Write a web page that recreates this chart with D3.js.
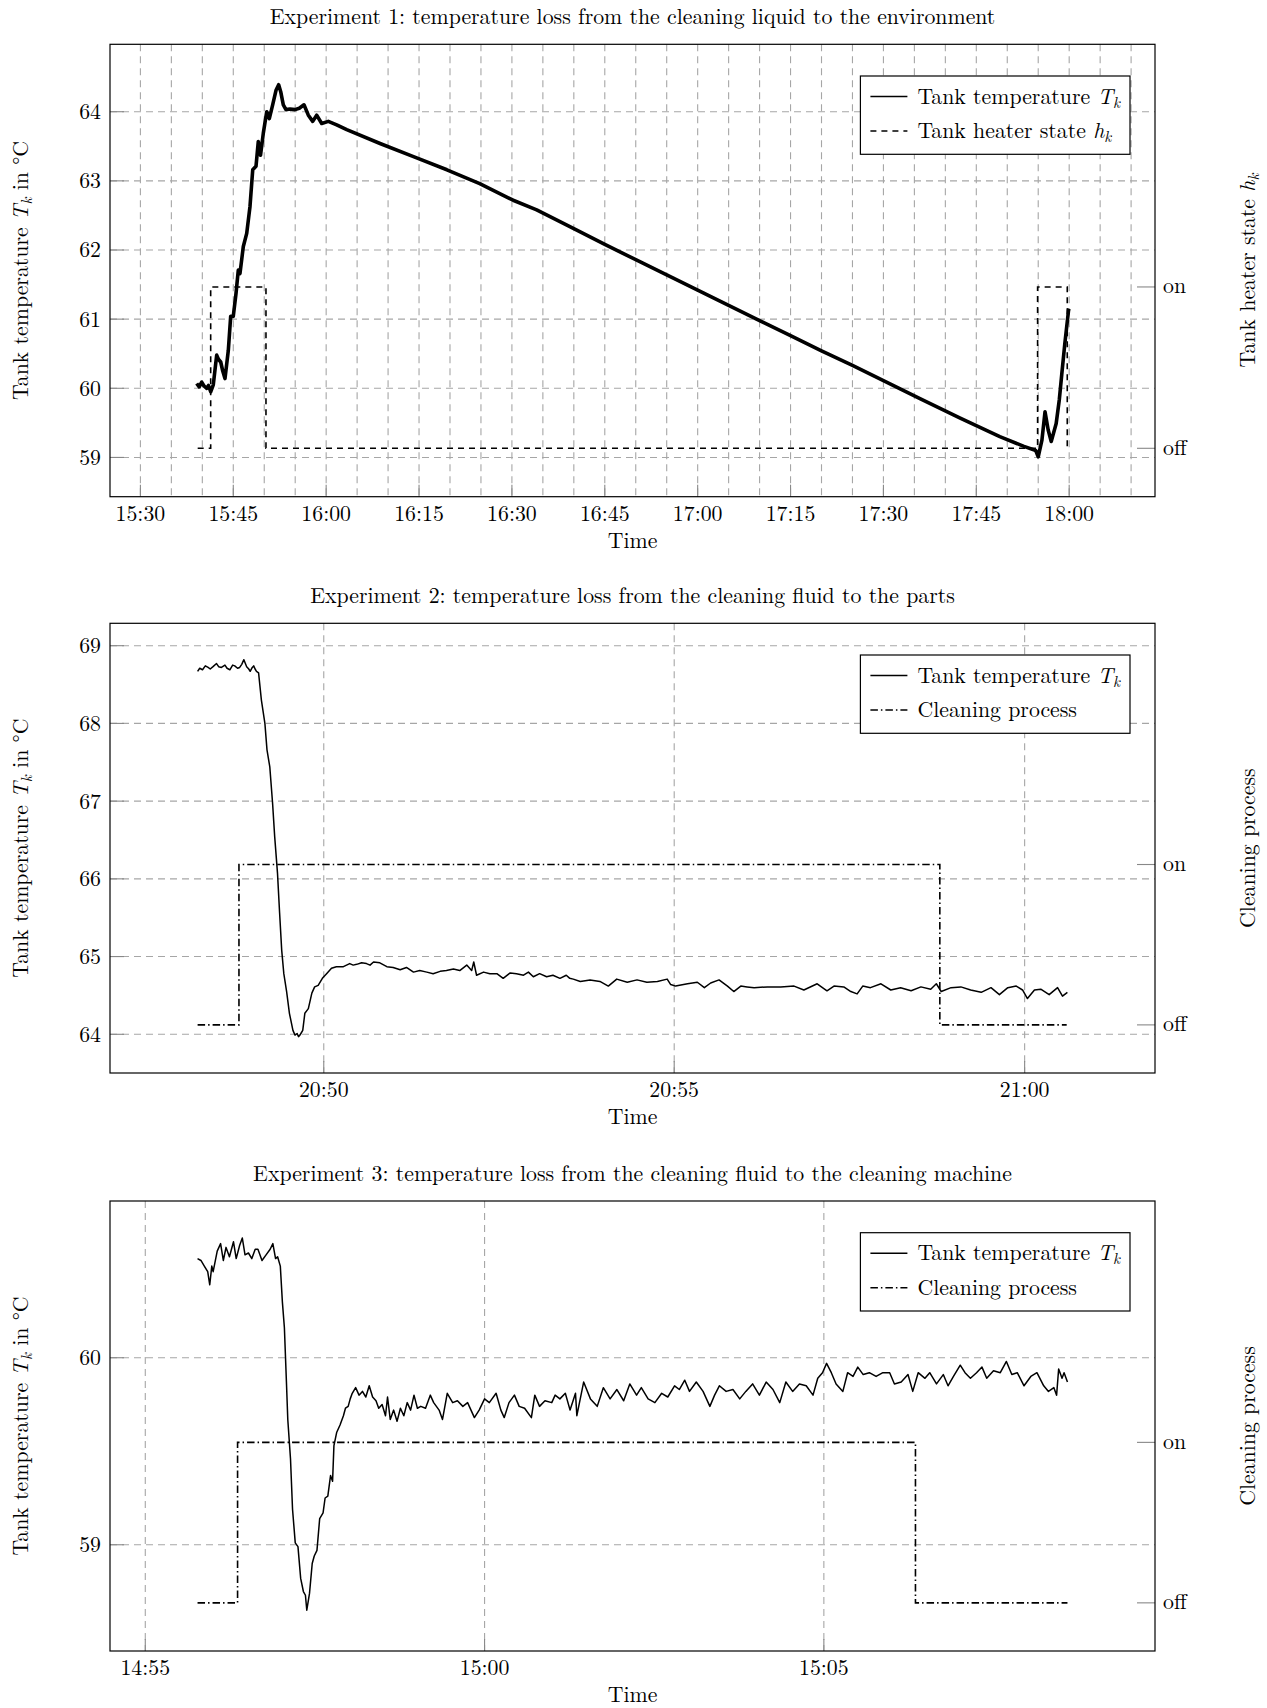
<!DOCTYPE html>
<html>
<head>
<meta charset="utf-8">
<script src="https://cdn.jsdelivr.net/npm/d3@7"></script>
<style>
  body { margin: 0; background: #fff; }
  svg text { font-family: "Latin Modern Roman", "CMU Serif", "Liberation Serif", "Times New Roman", serif; fill: #000; }
</style>
</head>
<body>
<div id="chart"></div>
<script>
// ---- data, times are minutes after the full hour of each experiment ----

// Experiment 1 (15:00 based)
const exp1TickLabels = ["15:30", "15:45", "16:00", "16:15", "16:30", "16:45", "17:00", "17:15", "17:30", "17:45", "18:00"];
const exp1YTicks = [59, 60, 61, 62, 63, 64];
const exp1Minutes = [39.09, 39.5, 39.9, 40.3, 40.71, 41.0, 41.35, 41.77, 42.32, 42.6, 42.97, 43.3, 43.66, 44.2, 44.58, 45.0,
  45.44, 45.81, 46.08, 46.62, 47.17, 47.7, 48.14, 48.67, 49.04, 49.4, 49.85, 50.4, 50.82, 51.36, 51.9, 52.33, 52.66,
  53.08, 53.51, 54.16, 54.97, 55.66, 56.42, 57.12, 57.83, 58.47, 59.28, 60.35, 61.7, 63.32, 68.7, 74.1, 79.5, 84.8,
  90.2, 94.0, 100, 105, 110, 115, 120, 125, 130, 135, 140, 145, 150, 155.9, 162.4, 168.8, 172.7, 174.6, 175.0,
  175.6, 176.1, 176.6, 177.1, 177.9, 178.4, 178.8, 179.3, 179.9, 180.0];
const exp1Temp = [60.07, 60.02, 60.09, 60.03, 60.00, 60.04, 59.95, 60.05, 60.48, 60.42, 60.38, 60.25, 60.14, 60.55, 61.04, 61.04,
  61.37, 61.71, 61.66, 62.05, 62.24, 62.63, 63.16, 63.21, 63.57, 63.37, 63.69, 64.00, 63.90, 64.10, 64.31, 64.39, 64.29,
  64.10, 64.03, 64.04, 64.03, 64.05, 64.10, 63.95, 63.86, 63.95, 63.83, 63.86, 63.81, 63.74, 63.54, 63.35, 63.16, 62.96,
  62.72, 62.58, 62.31, 62.08, 61.86, 61.64, 61.42, 61.20, 60.98, 60.76, 60.54, 60.33, 60.11, 59.85, 59.57, 59.30, 59.16, 59.10, 59.01,
  59.25, 59.66, 59.40, 59.23, 59.49, 59.83, 60.20, 60.65, 61.13, 61.15];
const exp1HeaterMinutes = [39.25, 41.35, 50.28, 174.9, 179.69, 179.9];
const exp1Heater = [0, 1, 0, 1, 0, 0];

// Experiment 2 (20:00 based)
const exp2TickLabels = ["20:50", "20:55", "21:00"];
const exp2YTicks = [64, 65, 66, 67, 68, 69];
const exp2Minutes = [48.20, 48.23, 48.27, 48.31, 48.35, 48.38, 48.42, 48.47, 48.50, 48.54, 48.59, 48.62, 48.66, 48.70, 48.73,
  48.77, 48.80, 48.83, 48.86, 48.90, 48.93, 48.95, 48.98, 49.00, 49.02, 49.04, 49.07, 49.11, 49.16, 49.19, 49.23, 49.27,
  49.30, 49.34, 49.37, 49.40, 49.43, 49.47, 49.51, 49.56, 49.59, 49.62, 49.64, 49.66, 49.68, 49.70, 49.73, 49.78, 49.83,
  49.87, 49.92, 49.98, 50.04, 50.11, 50.18, 50.28, 50.37, 50.42, 50.47, 50.54, 50.61, 50.66, 50.71, 50.80, 50.90, 50.99,
  51.09, 51.18, 51.28, 51.37, 51.47, 51.56, 51.66, 51.75, 51.85, 51.94, 52.04, 52.11, 52.14, 52.18, 52.28, 52.37, 52.47,
  52.56, 52.66, 52.75, 52.85, 52.92, 52.99, 53.08, 53.18, 53.27, 53.37, 53.46, 53.51, 53.56, 53.66, 53.80, 53.94, 54.06,
  54.18, 54.33, 54.47, 54.61, 54.76, 54.90, 54.95, 55.02, 55.19, 55.33, 55.43, 55.52, 55.64, 55.76, 55.85, 55.95, 56.04,
  56.14, 56.33, 56.52, 56.71, 56.85, 57.04, 57.18, 57.28, 57.42, 57.52, 57.61, 57.69, 57.80, 57.95, 58.09, 58.23, 58.38,
  58.52, 58.66, 58.74, 58.81, 58.95, 59.09, 59.23, 59.38, 59.52, 59.64, 59.76, 59.88, 59.97, 60.04, 60.14, 60.23, 60.35,
  60.47, 60.54, 60.61];
const exp2Temp = [68.67, 68.71, 68.69, 68.74, 68.72, 68.70, 68.73, 68.77, 68.73, 68.72, 68.75, 68.71, 68.69, 68.75, 68.74,
  68.71, 68.72, 68.76, 68.82, 68.73, 68.70, 68.67, 68.72, 68.74, 68.70, 68.67, 68.65, 68.30, 68.00, 67.66, 67.44, 66.97,
  66.54, 66.07, 65.56, 65.08, 64.78, 64.55, 64.27, 64.05, 63.99, 64.01, 63.97, 63.99, 64.02, 64.05, 64.27, 64.33, 64.53,
  64.61, 64.63, 64.72, 64.78, 64.85, 64.87, 64.87, 64.91, 64.89, 64.90, 64.92, 64.91, 64.89, 64.93, 64.92, 64.87, 64.86,
  64.83, 64.86, 64.80, 64.82, 64.80, 64.78, 64.81, 64.82, 64.84, 64.82, 64.89, 64.82, 64.93, 64.76, 64.80, 64.78, 64.78,
  64.72, 64.79, 64.78, 64.76, 64.80, 64.74, 64.78, 64.74, 64.76, 64.72, 64.76, 64.72, 64.71, 64.68, 64.70, 64.68, 64.62,
  64.71, 64.67, 64.70, 64.67, 64.68, 64.71, 64.64, 64.62, 64.65, 64.67, 64.60, 64.66, 64.70, 64.62, 64.55, 64.62, 64.61,
  64.60, 64.61, 64.61, 64.62, 64.57, 64.65, 64.56, 64.62, 64.61, 64.55, 64.52, 64.62, 64.60, 64.65, 64.57, 64.60, 64.56,
  64.61, 64.58, 64.65, 64.55, 64.60, 64.61, 64.57, 64.54, 64.60, 64.51, 64.60, 64.62, 64.57, 64.46, 64.57, 64.58, 64.51,
  64.60, 64.49, 64.54];
const exp2CleanMinutes = [48.20, 48.79, 58.79, 60.60];
const exp2Clean = [0, 1, 0, 0];

// Experiment 3 (14:00 based)
const exp3TickLabels = ["14:55", "15:00", "15:05"];
const exp3YTicks = [59, 60];
const exp3Minutes = [55.77, 55.82, 55.87, 55.92, 55.95, 55.98, 56.00, 56.06, 56.11, 56.15, 56.19, 56.24, 56.30, 56.34, 56.39,
  56.43, 56.47, 56.52, 56.57, 56.62, 56.66, 56.72, 56.78, 56.84, 56.88, 56.92, 56.95, 56.99, 57.02, 57.05, 57.08, 57.10,
  57.14, 57.17, 57.21, 57.25, 57.29, 57.33, 57.36, 57.38, 57.42, 57.46, 57.49, 57.53, 57.57, 57.62, 57.65, 57.69, 57.73,
  57.76, 57.78, 57.82, 57.87, 57.92, 57.95, 57.99, 58.02, 58.05, 58.10, 58.15, 58.20, 58.25, 58.30, 58.35, 58.40, 58.44,
  58.49, 58.54, 58.57, 58.61, 58.66, 58.71, 58.76, 58.81, 58.86, 58.91, 58.96, 59.01, 59.06, 59.13, 59.20, 59.25, 59.33,
  59.38, 59.45, 59.53, 59.60, 59.68, 59.75, 59.85, 59.92, 60.00, 60.07, 60.17, 60.24, 60.29, 60.36, 60.44, 60.51, 60.59,
  60.69, 60.74, 60.81, 60.89, 60.99, 61.04, 61.11, 61.19, 61.26, 61.34, 61.36, 61.46, 61.56, 61.66, 61.75, 61.85, 61.95,
  62.05, 62.14, 62.24, 62.31, 62.41, 62.51, 62.61, 62.70, 62.80, 62.87, 62.95, 63.02, 63.12, 63.22, 63.32, 63.39, 63.46,
  63.56, 63.66, 63.76, 63.85, 63.95, 64.05, 64.15, 64.25, 64.35, 64.44, 64.54, 64.64, 64.74, 64.84, 64.91, 64.98, 65.04,
  65.11, 65.18, 65.28, 65.35, 65.43, 65.50, 65.58, 65.67, 65.77, 65.87, 65.97, 66.04, 66.14, 66.24, 66.31, 66.39, 66.49,
  66.56, 66.66, 66.76, 66.83, 66.91, 67.01, 67.08, 67.16, 67.25, 67.33, 67.40, 67.50, 67.60, 67.69, 67.77, 67.85, 67.95,
  68.05, 68.14, 68.24, 68.31, 68.39, 68.43, 68.46, 68.51, 68.54, 68.59];
const exp3Temp = [60.53, 60.52, 60.49, 60.46, 60.39, 60.49, 60.46, 60.57, 60.61, 60.52, 60.59, 60.54, 60.62, 60.53, 60.60,
  60.64, 60.55, 60.56, 60.53, 60.58, 60.58, 60.52, 60.55, 60.58, 60.61, 60.53, 60.54, 60.49, 60.30, 60.16, 59.87, 59.67,
  59.46, 59.19, 59.01, 58.99, 58.82, 58.75, 58.73, 58.65, 58.74, 58.90, 58.94, 58.97, 59.14, 59.17, 59.25, 59.26, 59.37,
  59.34, 59.53, 59.60, 59.64, 59.69, 59.73, 59.74, 59.78, 59.81, 59.84, 59.80, 59.82, 59.79, 59.85, 59.79, 59.77, 59.73,
  59.75, 59.69, 59.79, 59.67, 59.72, 59.66, 59.73, 59.69, 59.76, 59.72, 59.80, 59.73, 59.74, 59.73, 59.80, 59.76, 59.72,
  59.67, 59.81, 59.76, 59.77, 59.74, 59.76, 59.68, 59.72, 59.78, 59.76, 59.81, 59.72, 59.68, 59.76, 59.80, 59.74, 59.73,
  59.68, 59.80, 59.74, 59.77, 59.76, 59.80, 59.78, 59.81, 59.72, 59.81, 59.69, 59.87, 59.78, 59.74, 59.84, 59.78, 59.83,
  59.77, 59.86, 59.80, 59.84, 59.78, 59.76, 59.81, 59.79, 59.85, 59.83, 59.88, 59.82, 59.87, 59.82, 59.74, 59.80, 59.85,
  59.82, 59.83, 59.78, 59.82, 59.86, 59.80, 59.87, 59.83, 59.76, 59.87, 59.82, 59.86, 59.85, 59.80, 59.89, 59.92, 59.97,
  59.92, 59.86, 59.82, 59.92, 59.90, 59.95, 59.91, 59.92, 59.90, 59.92, 59.92, 59.86, 59.87, 59.91, 59.82, 59.92, 59.89,
  59.92, 59.86, 59.91, 59.85, 59.90, 59.96, 59.92, 59.89, 59.92, 59.95, 59.89, 59.93, 59.92, 59.98, 59.91, 59.92, 59.85,
  59.90, 59.92, 59.85, 59.82, 59.84, 59.80, 59.94, 59.89, 59.92, 59.87];
const exp3CleanMinutes = [55.77, 56.36, 66.35, 68.59];
const exp3Clean = [0, 1, 0, 0];

const stateLabels = ["off", "on"];

// ---- layout ----
const W = 1267, H = 1708;
const plotLeft = 110, plotRight = 1155;
const gridColor = "#a6a6a6";
const fs = "21.8px";

const svg = d3.select("#chart")
  .append("svg")
  .attr("width", W)
  .attr("height", H);

const panels = [
  {
    top: 44.3, bottom: 496.7, hour: 15, xRange: [25.09, 193.86], grid: 5,
    ticks: exp1TickLabels, yDomain: [58.432, 64.975], yTicks: exp1YTicks,
    minutes: exp1Minutes, temp: exp1Temp, tempWidth: 3.6,
    stateMinutes: exp1HeaterMinutes, state: exp1Heater, stateDash: "6,5",
    title: "Experiment 1: temperature loss from the cleaning liquid to the environment",
    rightLabel: [["Tank heater state ", false], ["h", true], ["k", true, true]],
    legend2: [["Tank heater state ", false], ["h", true], ["k", true, true]]
  },
  {
    top: 623.3, bottom: 1073, hour: 20, xRange: [46.95, 61.86], grid: 5,
    ticks: exp2TickLabels, yDomain: [63.502, 69.288], yTicks: exp2YTicks,
    minutes: exp2Minutes, temp: exp2Temp, tempWidth: 1.5,
    stateMinutes: exp2CleanMinutes, state: exp2Clean, stateDash: "7.5,3,1.5,3",
    title: "Experiment 2: temperature loss from the cleaning fluid to the parts",
    rightLabel: [["Cleaning process", false]],
    legend2: [["Cleaning process", false]]
  },
  {
    top: 1201, bottom: 1651, hour: 14, xRange: [54.48, 69.88], grid: 5,
    ticks: exp3TickLabels, yDomain: [58.432, 60.838], yTicks: exp3YTicks,
    minutes: exp3Minutes, temp: exp3Temp, tempWidth: 1.5,
    stateMinutes: exp3CleanMinutes, state: exp3Clean, stateDash: "7.5,3,1.5,3",
    title: "Experiment 3: temperature loss from the cleaning fluid to the cleaning machine",
    rightLabel: [["Cleaning process", false]],
    legend2: [["Cleaning process", false]]
  }
];

const tempLabel = [["Tank temperature ", false], ["T", true], ["k", true, true], [" in °C", false]];
const legend1 = [["Tank temperature ", false], ["T", true], ["k", true, true]];

// write rich text (italic / subscript pieces) into a text element
function richText(sel, parts) {
  parts.forEach(p => {
    const t = sel.append("tspan").text(p[0]);
    if (p[1]) t.style("font-style", "italic");
    if (p[2]) t.attr("baseline-shift", "-28%").style("font-size", "70%");
  });
  return sel;
}

panels.forEach(p => {
  const toDate = m => new Date(2021, 0, 1, p.hour, 0, 0, 0).getTime() + m * 60000;
  const parse = d3.timeParse("%H:%M");
  const tickDates = p.ticks.map(s => {
    const d = parse(s);
    return new Date(2021, 0, 1, d.getHours(), d.getMinutes());
  });

  const x = d3.scaleTime()
    .domain([toDate(p.xRange[0]), toDate(p.xRange[1])])
    .range([plotLeft, plotRight]);
  const y = d3.scaleLinear().domain(p.yDomain).range([p.bottom, p.top]);
  const y2 = d3.scaleLinear().domain([-0.3, 2.504]).range([p.bottom, p.top]);

  const g = svg.append("g");

  // grid
  const gridDates = x.ticks(d3.timeMinute.every(p.grid))
    .filter(d => x(d) > plotLeft + 2 && x(d) < plotRight - 2);
  g.selectAll(".vgrid")
    .data(gridDates)
    .join("line")
    .attr("x1", d => x(d)).attr("x2", d => x(d))
    .attr("y1", p.top).attr("y2", p.bottom)
    .attr("stroke", gridColor).attr("stroke-width", 1.1)
    .attr("stroke-dasharray", "7,5");
  g.selectAll(".hgrid")
    .data(p.yTicks)
    .join("line")
    .attr("x1", plotLeft).attr("x2", plotRight)
    .attr("y1", d => y(d)).attr("y2", d => y(d))
    .attr("stroke", gridColor).attr("stroke-width", 1.1)
    .attr("stroke-dasharray", "7,5");

  // tick marks
  g.selectAll(".ytick")
    .data(p.yTicks)
    .join("line")
    .attr("x1", plotLeft).attr("x2", plotLeft + 14)
    .attr("y1", d => y(d)).attr("y2", d => y(d))
    .attr("stroke", "#888").attr("stroke-width", 1.1);
  g.selectAll(".xtick")
    .data(tickDates)
    .join("line")
    .attr("x1", d => x(d)).attr("x2", d => x(d))
    .attr("y1", p.bottom).attr("y2", p.bottom - 12)
    .attr("stroke", "#888").attr("stroke-width", 1.1);
  g.selectAll(".y2tick")
    .data([0, 1])
    .join("line")
    .attr("x1", plotRight - 18).attr("x2", plotRight)
    .attr("y1", d => y2(d)).attr("y2", d => y2(d))
    .attr("stroke", "#888").attr("stroke-width", 1.1);

  // state step line
  const stateLine = d3.line()
    .x((d, i) => x(toDate(p.stateMinutes[i])))
    .y(d => y2(d))
    .curve(d3.curveStepAfter);
  g.append("path")
    .datum(p.state)
    .attr("fill", "none")
    .attr("stroke", "#000")
    .attr("stroke-width", 1.6)
    .attr("stroke-dasharray", p.stateDash)
    .attr("d", stateLine);

  // temperature line
  const tempLine = d3.line()
    .x((d, i) => x(toDate(p.minutes[i])))
    .y(d => y(d));
  g.append("path")
    .datum(p.temp)
    .attr("fill", "none")
    .attr("stroke", "#000")
    .attr("stroke-width", p.tempWidth)
    .attr("stroke-linejoin", "round")
    .attr("d", tempLine);

  // frame
  g.append("rect")
    .attr("x", plotLeft).attr("y", p.top)
    .attr("width", plotRight - plotLeft).attr("height", p.bottom - p.top)
    .attr("fill", "none").attr("stroke", "#000").attr("stroke-width", 1.2);

  // tick labels
  g.selectAll(".xlab")
    .data(tickDates)
    .join("text")
    .attr("x", d => x(d)).attr("y", p.bottom + 24)
    .attr("text-anchor", "middle")
    .style("font-size", fs)
    .text(d => d3.timeFormat("%H:%M")(d));
  g.selectAll(".ylab")
    .data(p.yTicks)
    .join("text")
    .attr("x", 101).attr("y", d => y(d))
    .attr("dy", "0.34em")
    .attr("text-anchor", "end")
    .style("font-size", fs)
    .text(d => d);
  g.selectAll(".y2lab")
    .data([0, 1])
    .join("text")
    .attr("x", 1163).attr("y", d => y2(d))
    .attr("dy", "0.3em")
    .style("font-size", fs)
    .text(d => stateLabels[d]);

  // titles
  g.append("text")
    .attr("x", (plotLeft + plotRight) / 2).attr("y", p.top - 20.5)
    .attr("text-anchor", "middle")
    .style("font-size", fs)
    .text(p.title);
  g.append("text")
    .attr("x", (plotLeft + plotRight) / 2).attr("y", p.bottom + 51)
    .attr("text-anchor", "middle")
    .style("font-size", fs)
    .text("Time");

  const midY = (p.top + p.bottom) / 2;
  richText(g.append("text")
    .attr("transform", `translate(28,${midY}) rotate(-90)`)
    .attr("text-anchor", "middle")
    .style("font-size", fs), tempLabel);
  richText(g.append("text")
    .attr("transform", `translate(1255,${midY}) rotate(-90)`)
    .attr("text-anchor", "middle")
    .style("font-size", fs), p.rightLabel);

  // legend
  const lg = g.append("g");
  const box = lg.append("rect")
    .attr("fill", "#fff").attr("stroke", "#000").attr("stroke-width", 1.2);
  const t1 = richText(lg.append("text").attr("x", 57).attr("y", 20.5).attr("dy", "0.33em").style("font-size", fs), legend1);
  const t2 = richText(lg.append("text").attr("x", 57).attr("y", 55).attr("dy", "0.33em").style("font-size", fs), p.legend2);
  lg.append("line").attr("x1", 10).attr("x2", 47).attr("y1", 20.5).attr("y2", 20.5)
    .attr("stroke", "#000").attr("stroke-width", 1.6);
  lg.append("line").attr("x1", 10).attr("x2", 47).attr("y1", 55).attr("y2", 55)
    .attr("stroke", "#000").attr("stroke-width", 1.6)
    .attr("stroke-dasharray", p.stateDash);
  const tw = Math.max(t1.node().getComputedTextLength(), t2.node().getComputedTextLength());
  const bw = 57 + tw + 10;
  box.attr("width", bw).attr("height", 78.3);
  lg.attr("transform", `translate(${plotRight - 25 - bw},${p.top + 31.7})`);
});
</script>
</body>
</html>
